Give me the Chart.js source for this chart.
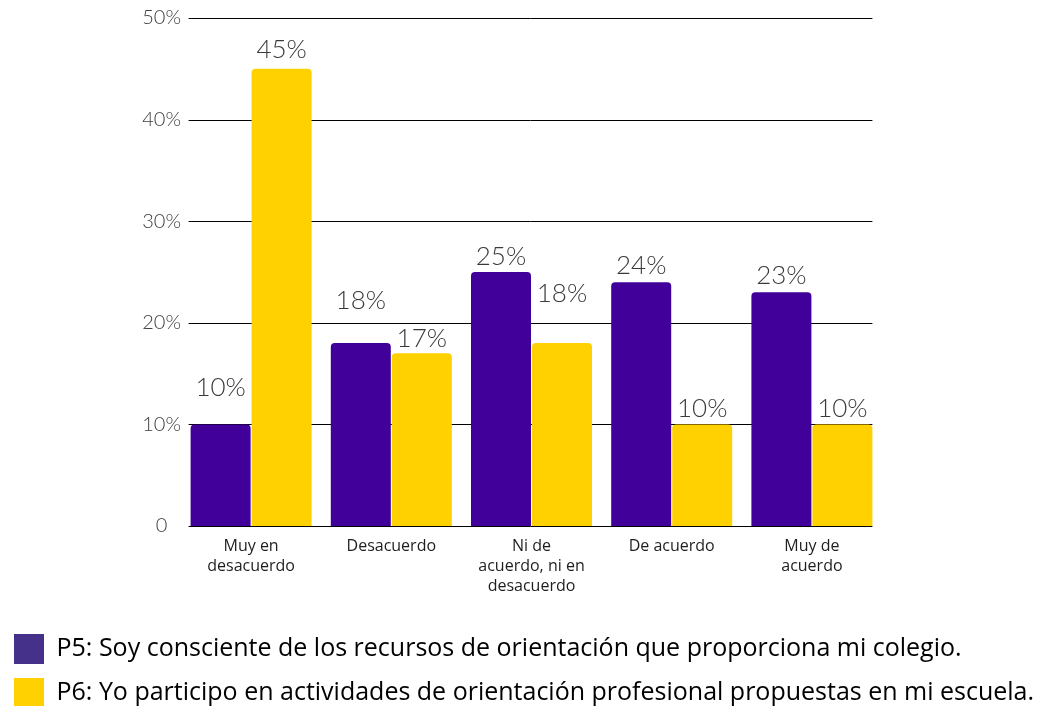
<!DOCTYPE html>
<html>
<head>
<meta charset="utf-8">
<script src="https://cdn.jsdelivr.net/npm/chart.js@4.4.1/dist/chart.umd.min.js"></script>
<style>
  html, body { margin: 0; padding: 0; background: #fff; overflow: hidden; }
  #wrap { width: 1043px; height: 718px; }
</style>
</head>
<body>
<div id="wrap"><canvas id="chart"></canvas></div>
<script>
// --- DATA ---
const categories = [
    ["Muy en", "desacuerdo"],
    ["Desacuerdo"],
    ["Ni de", "acuerdo, ni en", "desacuerdo"],
    ["De acuerdo"],
    ["Muy de", "acuerdo"]
];
const seriesNames = [
    "P5: Soy consciente de los recursos de orientación que proporciona mi colegio.",
    "P6: Yo participo en actividades de orientación profesional propuestas en mi escuela."
];
const p5Values = [10, 18, 25, 24, 23];
const p6Values = [45, 17, 18, 10, 10];
const yTicks = [0, 10, 20, 30, 40, 50];

// --- STYLE ---
const barColors = ["#400099", "#FFD100"];
const legendColors = ["#45308A", "#FFD100"];
// how far above the bar top each value label sits (centre of the text), per series
const labelLift = [
    [37, 43, 15, 17, 17],
    [19, 15, 50, 16, 16]
];

// draws "xx%" above each bar
const valueLabels = {
    id: "valueLabels",
    afterDatasetsDraw(chart) {
        const ctx = chart.ctx;
        ctx.save();
        ctx.font = "300 26px Lato";
        ctx.fillStyle = "#3a3a3a";
        ctx.textAlign = "center";
        ctx.textBaseline = "middle";
        chart.data.datasets.forEach((ds, d) => {
            chart.getDatasetMeta(d).data.forEach((bar, i) => {
                ctx.fillText(ds.data[i] + "%", bar.x, bar.y - labelLift[d][i]);
            });
        });
        ctx.restore();
    }
};

// horizontal gridlines only as wide as the bar groups
const shortGrid = {
    id: "shortGrid",
    beforeDatasetsDraw(chart) {
        const y = chart.scales.y;
        const first = chart.getDatasetMeta(0).data[0];
        const lastMeta = chart.getDatasetMeta(1).data;
        const last = lastMeta[lastMeta.length - 1];
        const x0 = first.x - first.width / 2 - 2;
        const x1 = last.x + last.width / 2;
        const ctx = chart.ctx;
        ctx.save();
        ctx.strokeStyle = "#000";
        ctx.lineWidth = 1;
        yTicks.forEach(v => {
            const py = Math.round(y.getPixelForValue(v)) + 0.5;
            ctx.beginPath();
            ctx.moveTo(x0, py);
            ctx.lineTo(x1, py);
            ctx.stroke();
        });
        ctx.restore();
    }
};

new Chart(document.getElementById("chart"), {
    type: "bar",
    data: {
        labels: categories,
        datasets: [
            { label: seriesNames[0], data: p5Values, backgroundColor: barColors[0] },
            { label: seriesNames[1], data: p6Values, backgroundColor: barColors[1] }
        ]
    },
    options: {
        responsive: true,
        maintainAspectRatio: false,
        animation: false,
        categoryPercentage: 0.87,
        barPercentage: 0.984,
        borderRadius: 4,
        layout: { padding: { left: 0, right: 0, top: 18, bottom: 0 } },
        scales: {
            x: {
                grid: { display: false },
                border: { display: false },
                ticks: {
                    color: "#1e1e1e",
                    font: { family: "'Open Sans'", size: 16, lineHeight: 1.25 },
                    padding: 2,
                    maxRotation: 0,
                    autoSkip: false
                },
                afterFit(scale) { scale.height = 94; }
            },
            y: {
                min: 0,
                max: 50,
                afterBuildTicks(scale) { scale.ticks = yTicks.map(v => ({ value: v })); },
                grid: { display: false },
                border: { display: false },
                ticks: {
                    color: "#404040",
                    crossAlign: "center",
                    padding: -8,
                    font: { family: "Lato", weight: "300", size: 20 },
                    callback: v => v === 0 ? "0" : v + "%"
                },
                afterFit(scale) { scale.width = 181; }
            },
            // empty right axis, only reserves the blank space right of the bars
            yRight: {
                position: "right",
                display: true,
                grid: { display: false },
                border: { display: false },
                ticks: { display: false },
                afterFit(scale) { scale.width = 161; }
            }
        },
        plugins: {
            legend: {
                position: "bottom",
                align: "start",
                labels: {
                    boxWidth: 30,
                    boxHeight: 30,
                    padding: 14,
                    color: "#1e1e1e",
                    font: { family: "'Open Sans'", size: 25 },
                    generateLabels(chart) {
                        return chart.data.datasets.map((ds, i) => ({
                            text: ds.label,
                            fillStyle: legendColors[i],
                            strokeStyle: legendColors[i],
                            lineWidth: 0,
                            datasetIndex: i
                        }));
                    }
                }
            },
            tooltip: { enabled: false }
        }
    },
    plugins: [shortGrid, valueLabels]
});
</script>
</body>
</html>
